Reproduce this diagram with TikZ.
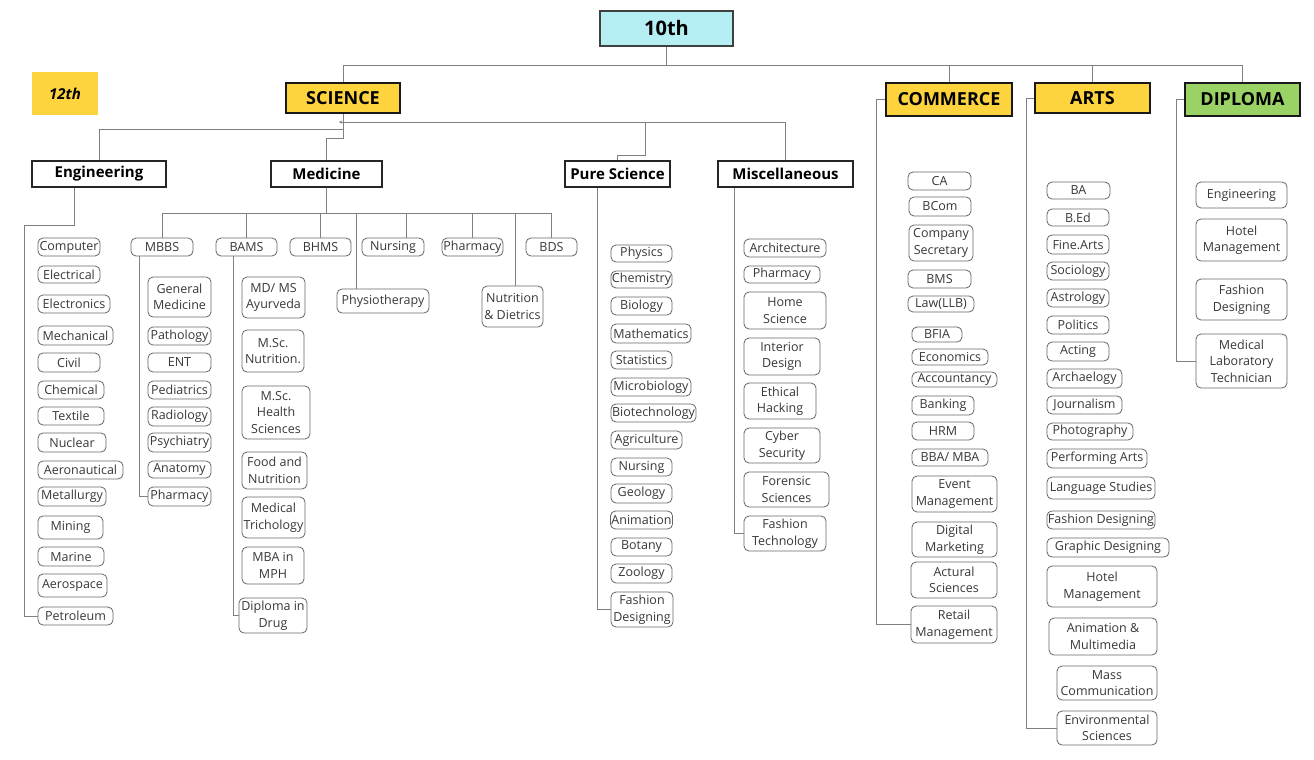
\documentclass[tikz,border=0pt]{standalone}
\usepackage{fontspec}
\setmainfont{Open Sans}
\usetikzlibrary{arrows.meta}
\definecolor{stageyellow}{RGB}{253,211,62}
\definecolor{stagecyan}{RGB}{181,238,243}
\definecolor{stagegreen}{RGB}{155,210,102}
\newcommand{\leafsize}{\fontsize{12.5}{16.5}\selectfont}
\newcommand{\conncolor}{black!50}
\tikzset{
  stage/.style={draw=black!90, line width=2pt, font=\bfseries\fontsize{18}{20}\selectfont, inner sep=0pt},
  stream/.style={draw=black!85, line width=1.3pt, fill=white, font=\bfseries\fontsize{15}{17}\selectfont, inner sep=0pt},
  leaf/.style 2 args={draw=black!60, line width=0.8pt, rounded corners=5pt, text=black!78, font=\leafsize,
    align=center, inner sep=1pt, minimum width=#1, minimum height=#2},
  conn/.style={draw=\conncolor, line width=0.8pt},
}

\begin{document}
\begin{tikzpicture}[x=1pt,y=-1pt]
\fill[white] (0,0) rectangle (1314,760);
\useasboundingbox (0,0) rectangle (1314,760);
%stages
\node[stage, fill=stagecyan, draw=black!75, font=\bfseries\fontsize{20}{22}\selectfont] (tenth) at (666.5,28.5) [minimum width=133, minimum height=35] {10th};
\node[fill=stageyellow, font=\bfseries\itshape\fontsize{15}{17}\selectfont] (twelfth) at (65,93.5) [minimum width=66, minimum height=43] {12th};
\node[stage, fill=stageyellow] (science) at (343,98) [minimum width=114, minimum height=30] {SCIENCE};
\node[stage, fill=stageyellow] (commerce) at (949,99.5) [minimum width=126, minimum height=33] {COMMERCE};
\node[stage, fill=stageyellow] (arts) at (1092.5,98) [minimum width=115, minimum height=30] {ARTS};
\node[stage, fill=stagegreen] (diploma) at (1242.5,99.5) [minimum width=115, minimum height=33] {DIPLOMA};
\draw[conn] (tenth.south) -- ++(0,18) -| (science.north);
\draw[conn] (tenth.south) -- ++(0,18) -| (commerce.north);
\draw[conn] (tenth.south) -- ++(0,18) -| (arts.north);
\draw[conn] (tenth.south) -- ++(0,18) -| (diploma.north);
%science streams
\node[stream] (engineering) at (99,174) [minimum width=134, minimum height=26] {Engineering};
\node[stream] (medicine) at (326.5,174) [minimum width=111, minimum height=26] {Medicine};
\node[stream] (pure) at (617.5,174) [minimum width=105, minimum height=26] {Pure Science};
\node[stream] (misc) at (785.5,174) [minimum width=135, minimum height=26] {Miscellaneous};
\draw[conn] (science.south) -- ++(0,15) -| (engineering.north);
\draw[conn] (science.south) -- ++(0,24) -| (medicine.north);
\draw[conn] (science.south) -- ++(0,8) -- ++(302,0) -- ++(0,33) -| (pure.north);
\draw[conn, -{Stealth[length=3pt,width=3pt]}] (misc.north) |- ([xshift=-4pt,yshift=-8pt]science.south);
%engineering
\node[leaf={62}{18}] (computer) at (69,247) {Computer};
\node[leaf={62}{17}] (electrical) at (69,274.5) {Electrical};
\node[leaf={72}{18}] (electronics) at (74,304) {Electronics};
\node[leaf={75}{19}] (mechanical) at (75.5,335.5) {Mechanical};
\node[leaf={62}{19}] (civil) at (69,362.5) {Civil};
\node[leaf={66}{18}] (chemical) at (71,390) {Chemical};
\node[leaf={66}{18}] (textile) at (71,416) {Textile};
\node[leaf={68}{19}] (nuclear) at (72,442.5) {Nuclear};
\node[leaf={85}{18}] (aeronautical) at (80.5,470) {Aeronautical};
\node[leaf={68}{19}] (metallurgy) at (72,496.5) {Metallurgy};
\node[leaf={65}{23}] (mining) at (70.5,527.5) {Mining};
\node[leaf={66}{19}] (marine) at (71,556.5) {Marine};
\node[leaf={69}{23}] (aerospace) at (72.5,585.5) {Aerospace};
\node[leaf={75}{18}] (petroleum) at (75.5,616) {Petroleum};
\draw[conn] ([xshift=-25pt]engineering.south) -- ++(0,38) -| ([xshift=-13pt]petroleum.west) -- (petroleum.west);
%medicine
\node[leaf={62}{18}] (mbbs) at (162,247) {MBBS};
\node[leaf={61}{18}] (bams) at (246.5,247) {BAMS};
\node[leaf={61}{18}] (bhms) at (320.5,247) {BHMS};
\node[leaf={62}{18}] (mnursing) at (393,247) {Nursing};
\node[leaf={61}{18}] (mpharmacy) at (472.5,247) {Pharmacy};
\node[leaf={51}{18}] (bds) at (551.5,247) {BDS};
\node[leaf={92}{24}] (physio) at (383,301) {Physiotherapy};
\node[leaf={61}{41}] (nutrition) at (512.5,306.5) {Nutrition\\\& Dietrics};
\draw[conn] (medicine.south) -- ++(0,26) -| (mbbs.north);
\draw[conn] (medicine.south) -- ++(0,26) -| (bams.north);
\draw[conn] (medicine.south) -- ++(0,26) -| (bhms.north);
\draw[conn] (medicine.south) -- ++(0,26) -| ([xshift=13pt]mnursing.north);
\draw[conn] (medicine.south) -- ++(0,26) -| (mpharmacy.north);
\draw[conn] (medicine.south) -- ++(0,26) -| (bds.north);
\draw[conn] (medicine.south) -- ++(0,26) -| ([xshift=-27pt]physio.north);
\draw[conn] (medicine.south) -- ++(0,26) -| ([xshift=3pt]nutrition.north);
%mbbs
\node[leaf={63}{40}] (genmed) at (179.5,297) {General\\Medicine};
\node[leaf={63}{18}] (pathology) at (179.5,336) {Pathology};
\node[leaf={63}{19}] (ent) at (179.5,362.5) {ENT};
\node[leaf={63}{18}] (pediatrics) at (179.5,390) {Pediatrics};
\node[leaf={63}{19}] (radiology) at (179.5,416.5) {Radiology};
\node[leaf={63}{19}] (psychiatry) at (179.5,442.5) {Psychiatry};
\node[leaf={63}{17}] (anatomy) at (179.5,469.5) {Anatomy};
\node[leaf={63}{19}] (mbpharmacy) at (179.5,496.5) {Pharmacy};
\draw[conn] ([xshift=-23pt]mbbs.south) |- (mbpharmacy.west);
%bams
\node[leaf={63}{41}] (mdms) at (273.5,297.5) {MD/ MS\\Ayurveda};
\node[leaf={62}{42}] (mscnut) at (273,351) {M.Sc.\\Nutrition.};
\node[leaf={68}{53}] (mschealth) at (276,412.5) {M.Sc.\\Health\\Sciences};
\node[leaf={65}{37}] (food) at (274.5,470.5) {Food and\\Nutrition};
\node[leaf={63}{41}] (tricho) at (273.5,517.5) {Medical\\Trichology};
\node[leaf={62}{37}] (mbampH) at (273,565.5) {MBA in\\MPH};
\node[leaf={68}{35}] (drug) at (273,615.5) {Diploma in\\Drug};
\draw[conn] ([xshift=-13.5pt]bams.south) |- (drug.west);
%pure science
\node[leaf={61}{17}] (physics) at (641.5,253.5) {Physics};
\node[leaf={61}{17}] (chemistry) at (641.5,279.5) {Chemistry};
\node[leaf={61}{18}] (biology) at (641.5,306) {Biology};
\node[leaf={80}{19}] (maths) at (651,333.5) {Mathematics};
\node[leaf={61}{18}] (statistics) at (641.5,360) {Statistics};
\node[leaf={80}{18}] (microbio) at (651,387) {Microbiology};
\node[leaf={85}{18}] (biotech) at (653.5,413) {Biotechnology};
\node[leaf={71}{18}] (agri) at (646.5,440) {Agriculture};
\node[leaf={61}{18}] (pnursing) at (641.5,467) {Nursing};
\node[leaf={61}{19}] (geology) at (641.5,493.5) {Geology};
\node[leaf={61}{18}] (animation) at (641.5,520) {Animation};
\node[leaf={61}{18}] (botany) at (641.5,547) {Botany};
\node[leaf={61}{19}] (zoology) at (641.5,573.5) {Zoology};
\node[leaf={62}{35}] (pfashion) at (642,609.5) {Fashion\\Designing};
\draw[conn] ([xshift=-20.5pt]pure.south) |- (pfashion.west);
%miscellaneous
\node[leaf={82}{18}] (arch) at (785,248) {Architecture};
\node[leaf={76}{17}] (xpharmacy) at (782,274.5) {Pharmacy};
\node[leaf={82}{37}] (home) at (785,310.5) {Home\\Science};
\node[leaf={76}{37}] (interior) at (782,356.5) {Interior\\Design};
\node[leaf={72}{36}] (ethical) at (780,401) {Ethical\\Hacking};
\node[leaf={76}{35}] (cyber) at (782,445.5) {Cyber\\Security};
\node[leaf={85}{35}] (forensic) at (786.5,489.5) {Forensic\\Sciences};
\node[leaf={82}{35}] (fashtech) at (785,533.5) {Fashion\\Technology};
\draw[conn] ([xshift=-51.5pt]misc.south) |- (fashtech.west);
%commerce
\node[leaf={63}{18}] (ca) at (939.5,181) {CA};
\node[leaf={62}{19}] (bcom) at (940,206.5) {BCom};
\node[leaf={64}{36}] (cs) at (941,243) {Company\\Secretary};
\node[leaf={63}{18}] (bms) at (939.5,279) {BMS};
\node[leaf={66}{16}] (law) at (941,304) {Law(LLB)};
\node[leaf={50}{15}] (bfia) at (937,334.5) {BFIA};
\node[leaf={76}{16}] (economics) at (950,357) {Economics};
\node[leaf={85}{15}] (accountancy) at (954.5,379.5) {Accountancy};
\node[leaf={62}{19}] (banking) at (943,405.5) {Banking};
\node[leaf={62}{18}] (hrm) at (943,431) {HRM};
\node[leaf={76}{17}] (bba) at (950,457.5) {BBA/ MBA};
\node[leaf={85}{36}] (event) at (954.5,494) {Event\\Management};
\node[leaf={85}{35}] (digital) at (954.5,539.5) {Digital\\Marketing};
\node[leaf={86}{36}] (actural) at (954,580) {Actural\\Sciences};
\node[leaf={86}{37}] (retail) at (954,624.5) {Retail\\Management};
\draw[conn] (commerce.west) -- ++(-9,0) |- (retail.west);
%arts
\node[leaf={63}{17}] (ba) at (1078.5,190.5) {BA};
\node[leaf={62}{17}] (bed) at (1078,217.5) {B.Ed};
\node[leaf={62}{19}] (finearts) at (1078,244.5) {Fine.Arts};
\node[leaf={62}{18}] (sociology) at (1078,271) {Sociology};
\node[leaf={62}{18}] (astrology) at (1078,298) {Astrology};
\node[leaf={62}{18}] (politics) at (1078,325) {Politics};
\node[leaf={62}{19}] (acting) at (1078,351.5) {Acting};
\node[leaf={75}{19}] (archaeology) at (1084.5,378.5) {Archaelogy};
\node[leaf={75}{18}] (journalism) at (1084.5,405) {Journalism};
\node[leaf={86}{17}] (photography) at (1090,431.5) {Photography};
\node[leaf={100}{19}] (performing) at (1097,458.5) {Performing Arts};
\node[leaf={108}{22}] (language) at (1101,488) {Language Studies};
\node[leaf={108}{18}] (afashion) at (1101,520) {Fashion Designing};
\node[leaf={122}{19}] (graphic) at (1108,547.5) {Graphic Designing};
\node[leaf={110}{41}] (ahotel) at (1102,586.5) {Hotel\\Management};
\node[leaf={108}{37}] (animm) at (1103,636.5) {Animation \&\\Multimedia};
\node[leaf={100}{34}] (mass) at (1107,683) {Mass\\Communication};
\node[leaf={100}{34}] (envs) at (1107,728) {Environmental\\Sciences};
\draw[conn] (arts.west) -- ++(-8,0) |- (envs.west);
%diploma
\node[leaf={91}{26}] (deng) at (1241.5,195) {Engineering};
\node[leaf={91}{42}] (dhotel) at (1241.5,240) {Hotel\\Management};
\node[leaf={91}{41}] (dfashion) at (1241.5,299.5) {Fashion\\Designing};
\node[leaf={91}{54}] (mlt) at (1241.5,361) {Medical\\Laboratory\\Technician};
\draw[conn] (diploma.west) -- ++(-8,0) |- (mlt.west);
\end{tikzpicture}
\end{document}
